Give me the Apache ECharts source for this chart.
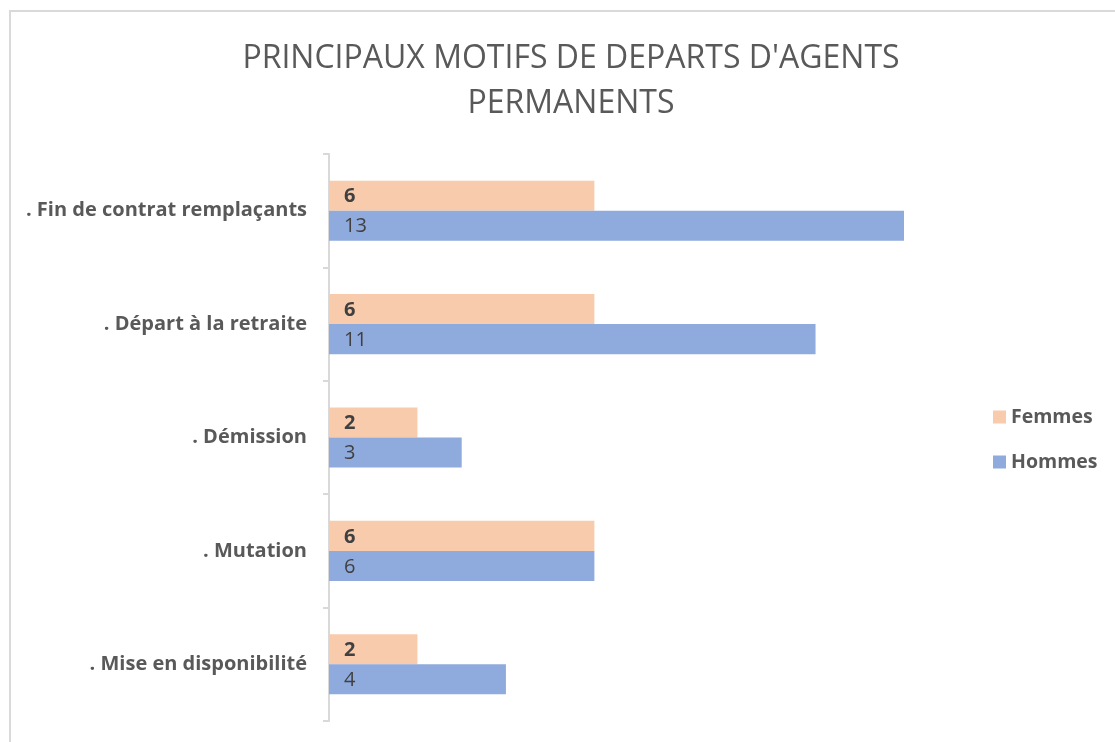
<!DOCTYPE html>
<html>
<head>
<meta charset="utf-8">
<script src="https://cdn.jsdelivr.net/npm/echarts@6/dist/echarts.min.js"></script>
<style>
html,body{margin:0;padding:0;background:#fff;}
#frame{position:absolute;left:9px;top:10px;width:1200px;height:800px;border:2px solid #d9d9d9;box-sizing:border-box;}
#chart{position:absolute;left:0;top:0;width:1115px;height:742px;}
</style>
</head>
<body>
<div id="frame"></div>
<div id="chart"></div>
<script>
const categories = ['. Fin de contrat remplaçants', '. Départ à la retraite', '. Démission', '. Mutation', '. Mise en disponibilité'];
const femmes = [6, 6, 2, 6, 2];
const hommes = [13, 11, 3, 6, 4];
const titleText = "PRINCIPAUX MOTIFS DE DEPARTS D'AGENTS\nPERMANENTS";

const chart = echarts.init(document.getElementById('chart'), null, {renderer: 'canvas'});
const font = '"Open Sans", "Noto Sans", sans-serif';
chart.setOption({
  backgroundColor: 'transparent',
  animation: false,
  title: {
    text: titleText,
    left: 566,
    top: 31,
    textAlign: 'center',
    textStyle: {fontFamily: font, fontSize: 32, fontWeight: 'normal', color: '#595959', lineHeight: 45}
  },
  legend: {
    orient: 'vertical',
    left: 988,
    top: 402,
    itemWidth: 13,
    itemHeight: 13,
    itemGap: 25,
    icon: 'rect',
    data: ['Femmes', 'Hommes'],
    textStyle: {fontFamily: font, fontSize: 19.5, fontWeight: 'bold', color: '#595959'}
  },
  grid: {left: 329, top: 154, width: 575, bottom: 21, containLabel: false},
  xAxis: {
    type: 'value', min: 0, max: 13, show: false
  },
  yAxis: {
    type: 'category',
    inverse: true,
    data: categories,
    axisLine: {show: true, lineStyle: {color: '#d9d9d9', width: 2}},
    axisTick: {show: true, length: 6, lineStyle: {color: '#d9d9d9', width: 2}},
    axisLabel: {margin: 22, fontFamily: font, fontSize: 20, fontWeight: 'bold', color: '#595959'},
    splitLine: {show: false}
  },
  series: [
    {
      name: 'Femmes', type: 'bar', data: femmes, barGap: '0%', barCategoryGap: '47%',
      itemStyle: {color: '#F8CBAD'},
      label: {show: true, position: 'insideLeft', offset: [10, 1], fontFamily: font, fontSize: 20, fontWeight: 'bold', color: '#404040'}
    },
    {
      name: 'Hommes', type: 'bar', data: hommes, barGap: '0%', barCategoryGap: '47%',
      itemStyle: {color: '#8FAADC'},
      label: {show: true, position: 'insideLeft', offset: [10, 1], fontFamily: font, fontSize: 20, fontWeight: 'normal', color: '#404040'}
    }
  ]
});
</script>
</body>
</html>
